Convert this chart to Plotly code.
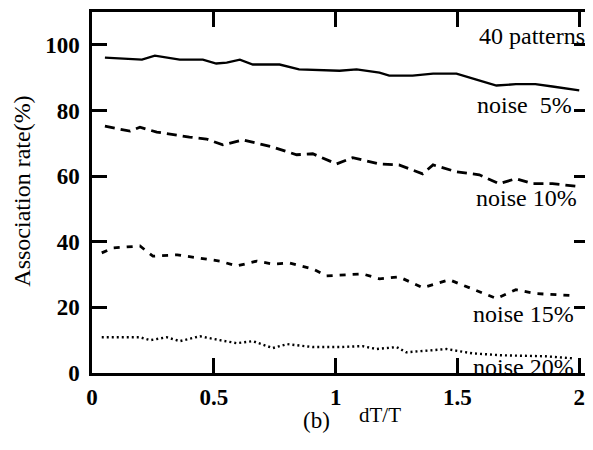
import plotly.graph_objects as go

# Data
x_n5 = [0.053, 0.205, 0.258, 0.36, 0.455, 0.51, 0.553, 0.607, 0.66, 0.77, 0.85, 1.016,
        1.086, 1.18, 1.22, 1.316, 1.4, 1.496, 1.578, 1.66, 1.74, 1.82, 1.89, 2.0]
y_n5 = [96.1, 95.5, 96.7, 95.5, 95.5, 94.3, 94.6, 95.5, 94.0, 94.0, 92.5, 92.1,
        92.5, 91.5, 90.6, 90.6, 91.2, 91.2, 89.4, 87.6, 88.0, 88.0, 87.3, 86.1]

x_n10 = [0.053, 0.156, 0.197, 0.266, 0.40, 0.47, 0.537, 0.62, 0.74, 0.84, 0.906, 1.004,
         1.07, 1.18, 1.26, 1.357, 1.40, 1.496, 1.59, 1.67, 1.74, 1.81, 1.89, 2.0]
y_n10 = [75.2, 73.7, 74.9, 73.4, 71.9, 71.3, 69.5, 71.0, 68.9, 66.5, 66.8, 63.7,
         65.6, 63.7, 63.4, 60.7, 63.4, 61.3, 60.4, 57.7, 59.2, 57.7, 57.7, 56.8]

x_n15 = [0.04, 0.086, 0.197, 0.25, 0.35, 0.47, 0.525, 0.594, 0.676, 0.742, 0.81, 0.906,
         0.963, 1.11, 1.18, 1.26, 1.357, 1.467, 1.578, 1.66, 1.74, 1.82, 1.97]
y_n15 = [36.6, 38.1, 38.7, 35.6, 36.0, 34.7, 34.1, 32.6, 34.1, 33.2, 33.5, 31.7,
         29.6, 30.2, 28.7, 29.3, 26.0, 28.4, 25.1, 22.7, 25.4, 24.2, 23.6]

x_n20 = [0.04, 0.197, 0.238, 0.307, 0.36, 0.443, 0.525, 0.594, 0.66, 0.742, 0.80, 0.906,
         1.016, 1.11, 1.168, 1.25, 1.29, 1.455, 1.56, 1.68, 1.86, 1.97]
y_n20 = [10.9, 10.9, 10.0, 10.9, 9.7, 11.2, 10.0, 9.1, 9.7, 7.6, 8.8, 7.9,
         7.9, 8.2, 7.3, 7.9, 6.3, 7.3, 6.0, 5.4, 5.1, 4.5]

x_ticks = [0, 0.5, 1, 1.5, 2]
x_tick_labels = ["0", "0.5", "1", "1.5", "2"]
y_ticks = [0, 20, 40, 60, 80, 100]
y_tick_labels = ["0", "20", "40", "60", "80", "100"]

labels = ["40 patterns", "noise \u00a05%", "noise 10%", "noise 15%", "noise 20%"]
label_x = [2.033, 1.98, 2.0, 1.988, 1.988]
label_y = [102.7, 81.6, 53.2, 18.1, 1.8]

FONT = "Liberation Serif, Times New Roman, serif"

# The page body has an 8px default margin, so the figure is shrunk by 8px
OFF = 8
W, H = 593 - OFF, 450 - OFF
L, R, T, B = 84, 3, 1, 77
pw, ph = W - L - R, H - T - B


def paper_pos(px, py):
    """page pixel -> paper coords"""
    sx, sy = px - OFF, py - OFF
    return (sx - L) / pw, (H - B - sy) / ph


fig = go.Figure()
series = [
    (x_n5, y_n5, "solid", 2.3),
    (x_n10, y_n10, "10px,6px", 2.8),
    (x_n15, y_n15, "6px,7px", 2.8),
    (x_n20, y_n20, "2px,3px", 2.4),
]
for xs, ys, dash, w in series:
    fig.add_trace(go.Scatter(x=xs, y=ys, mode="lines",
                             line=dict(color="black", width=w, dash=dash),
                             showlegend=False, hoverinfo="skip"))

for t, lx, ly in zip(labels, label_x, label_y):
    fig.add_annotation(x=lx, y=ly, xref="x", yref="y", text=t, showarrow=False,
                       xanchor="right", yanchor="middle",
                       font=dict(family=FONT, size=24, color="black"))

# axis titles
titles = [
    ("Association rate(%)", 21, 190, 24, -90),
    ("(b)", 317, 421, 23, 0),
    ("dT/T", 381, 415, 21, 0),
]
for txt, px, py, size, ang in titles:
    ax, ay = paper_pos(px, py)
    fig.add_annotation(x=ax, y=ay, xref="paper", yref="paper", text=txt,
                       showarrow=False, textangle=ang, xanchor="center", yanchor="middle",
                       font=dict(family=FONT, size=size, color="black"))

axis_common = dict(
    showgrid=False, zeroline=False, showline=True, linecolor="black", linewidth=2.5,
    mirror="ticks", ticks="inside", ticklen=15, tickwidth=2.5, tickcolor="black",
    tickfont=dict(family=FONT, size=23, color="black", weight="bold"),
)

fig.update_layout(
    width=W, height=H,
    margin=dict(l=L, r=R, t=T, b=B, pad=0),
    paper_bgcolor="white", plot_bgcolor="white",
    xaxis=dict(range=[0, 2.04], tickvals=x_ticks, ticktext=x_tick_labels,
               ticklabelstandoff=2, **axis_common),
    yaxis=dict(range=[0, 110], tickvals=y_ticks, ticktext=y_tick_labels,
               ticklabelstandoff=5, **axis_common),
    showlegend=False,
)

fig.write_html("out.html")
